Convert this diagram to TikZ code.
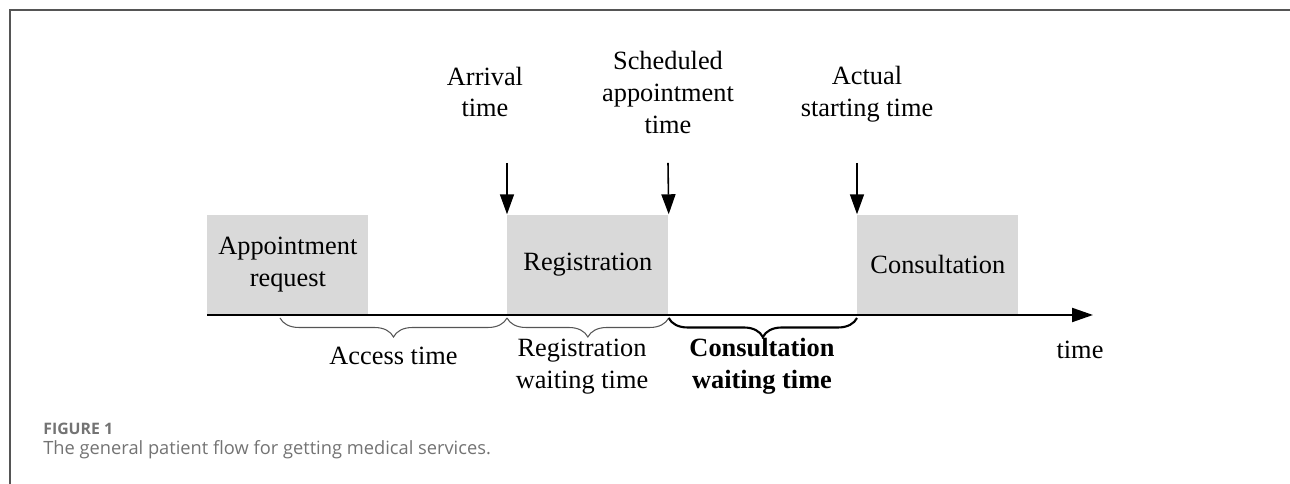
\documentclass[tikz,border=0pt]{standalone}
\usepackage{fontspec}
\setmainfont{Liberation Serif}
\newfontfamily\capfont{Open Sans}
\usetikzlibrary{arrows.meta,decorations.pathreplacing}
\definecolor{boxgray}{HTML}{D9D9D9}
\definecolor{framegray}{HTML}{555555}
\definecolor{capgray}{HTML}{737373}
\begin{document}
\begin{tikzpicture}

        \useasboundingbox (0,0) rectangle (25.8,9.68);
        \draw[framegray,line width=0.6pt] (0.2,0) -- (0.2,9.48) -- (25.8,9.48);

        \begin{scope}[every node/.style={fill=boxgray,anchor=south west,inner sep=0pt,
            minimum width=3.22cm,minimum height=2cm,align=center,
            font=\fontsize{15}{18}\selectfont}]
          \node (appreq)  at (4.14,3.38)  {Appointment\\request};
          \node (reg)     at (10.14,3.38) {Registration};
          \node (consult) at (17.14,3.38) {Consultation};
        \end{scope}

        \coordinate (timeend)   at (21.86,3.38);
        \coordinate (accstart)  at (5.6,3.38);
        \coordinate (arrtop)    at (10.14,6.42);
        \coordinate (schedtop)  at (13.36,6.42);
        \coordinate (actualtop) at (17.14,6.42);

        \draw[line width=1.2pt,-{Triangle[length=0.42cm,width=0.28cm]}] (appreq.south west) -- (timeend);

        \begin{scope}[every path/.style={line width=0.9pt,-{Triangle[length=0.4cm,width=0.28cm]}}]
          \draw (arrtop)    -- (reg.north west);
          \draw (schedtop)  -- (reg.north east);
          \draw (actualtop) -- (consult.north west);
        \end{scope}

        \begin{scope}[every node/.style={align=center,inner sep=0pt,
            font=\fontsize{15}{18}\selectfont}]
          \node (arrival) at (9.7,7.84)  {Arrival\\time};
          \node (sched)   at (13.36,7.83) {Scheduled\\appointment\\time};
          \node (actual)  at (17.34,7.8)  {Actual\\starting time};

          \node (access)  at (7.87,2.56)  {Access time};
          \node (regwait) at (11.64,2.35) {Registration\\waiting time};
          \node[font=\fontsize{15}{18}\selectfont\bfseries] (conwait) at (15.24,2.35) {Consultation\\waiting time};
          \node (timelbl) at (21.6,2.68)  {time};
        \end{scope}

        \begin{scope}[every path/.style={decorate,decoration={brace,mirror,amplitude=0.38cm,raise=0.06cm}}]
          \draw[framegray,line width=0.6pt] (accstart) -- (reg.south west);
          \draw[framegray,line width=0.6pt] (reg.south west) -- (reg.south east);
          \draw[black,line width=1.2pt] (reg.south east) -- (consult.south west);
        \end{scope}

        \node[anchor=base west,inner sep=0pt,text=capgray,font=\capfont\fontsize{9}{11}\selectfont\bfseries] (fignum) at (0.86,0.98) {FIGURE 1};
        \node[anchor=base west,inner sep=0pt,text=capgray,font=\capfont\fontsize{10.4}{12}\selectfont] (caption) at (0.86,0.58) {The general patient flow for getting medical services.};

      \end{tikzpicture}
\end{document}
